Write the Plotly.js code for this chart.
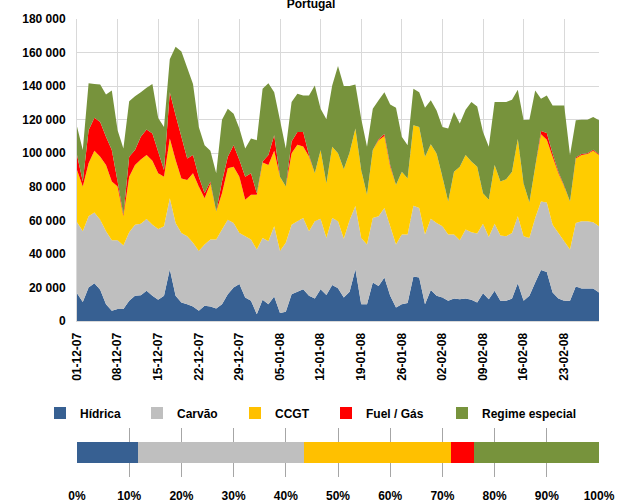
<!DOCTYPE html>
<html>
<head>
<meta charset="utf-8">
<script src="https://cdn.plot.ly/plotly-3.0.1.min.js"></script>
<style>
  html, body { margin: 0; padding: 0; background: #fff; }
  #chart { width: 622px; height: 504px; }
</style>
</head>
<body>
<div id="chart"></div>
<script>
// daily production, 01-12-07 .. 29-02-08
const START_DAY = '2007-12-01';
const DAY_MS = 86400000;

const SERIES_NAMES = ['Hídrica', 'Carvão', 'CCGT', 'Fuel / Gás', 'Regime especial'];

const hidrica = [
  16600, 11400, 19900, 22500, 18600, 10000, 6100, 7100, 7100, 12000, 15000, 15400, 18000, 15000, 12600, 15000,
  30800, 15000, 11000, 10000, 8700, 6100, 9100, 8700, 7500, 10000, 16000, 20000, 22000, 14000, 12000,
  4100, 12600, 10000, 14600, 4700, 5500, 16000, 17400, 19000, 15000, 13400, 19000, 15500, 21500, 19500,
  14000, 17500, 30800, 10000, 10000, 22900, 20900, 25900, 15000, 8100, 10000, 10700, 26500, 25900, 10000, 18500,
  15000, 14000, 12000, 13400, 13000, 13400, 12600, 11000, 16600, 13000, 18000, 12000, 12000, 13400, 22500, 12000,
  15000, 22900, 30400, 29200, 17000, 13400, 12000, 12000, 20500, 19300, 19300, 19300, 17000
];
const carvao = [
  42200, 42100, 42500, 42200, 41800, 43500, 42100, 41100, 37900, 40900, 42400, 42600, 42800, 42400, 42300, 41500,
  42400, 43400, 41500, 40500, 37900, 35600, 36500, 39900, 41100, 44500, 44400, 38400, 30500, 36500, 36600,
  38500, 36900, 37500, 41900, 37000, 41100, 41400, 42000, 42400, 38500, 46000, 42000, 34000, 39900, 40000,
  35000, 42500, 37700, 39500, 35600, 38500, 41500, 41400, 41500, 37500, 41500, 40800, 42200, 41400, 41500, 42500,
  43400, 42500, 39500, 38100, 35200, 41100, 40300, 41100, 41400, 37100, 40000, 38900, 38500, 39100, 39900, 38500,
  34500, 38500, 40900, 41500, 40400, 39100, 35500, 30600, 37900, 40100, 40100, 39500, 39500
];
const ccgt = [
  31200, 26600, 31600, 36800, 37500, 39500, 34900, 31900, 17400, 33100, 35600, 38300, 38100, 38100, 33100, 29500,
  35600, 37500, 32500, 33500, 41400, 38400, 27600, 33400, 16700, 21700, 30600, 33600, 33500, 21700, 26600,
  32600, 45000, 45500, 45000, 44300, 33500, 42600, 45600, 42600, 44500, 28600, 40900, 32500, 42400, 40500,
  41500, 40500, 46200, 40500, 29600, 40500, 45400, 42900, 35500, 35500, 37500, 33500, 48000, 48400, 46400, 44300,
  41500, 29500, 19800, 37500, 43800, 44400, 42100, 39900, 18200, 22100, 35000, 32200, 34000, 36500, 46100, 31500,
  21200, 30600, 40000, 37300, 40500, 35500, 32600, 28700, 38500, 39500, 40100, 42700, 42400
];
const fuelGas = [
  8900, 3000, 19700, 19700, 20700, 16800, 18800, 3000, 1000, 11900, 8900, 13500, 15200, 16200, 12900, 4000,
  27600, 26700, 24800, 12900, 10900, 5900, 3000, 1100, 0, 6900, 6900, 12800, 9900, 13800, 12800,
  1000, 500, 5900, 9200, 0, 0, 7000, 7700, 8700, 1000, 0, 0, 0, 0, 0,
  0, 0, 0, 0, 0, 0, 500, 1300, 1000, 0, 0, 0, 0, 0, 0, 0,
  0, 0, 0, 0, 0, 0, 0, 0, 0, 0, 0, 0, 0, 0, 0, 0,
  0, 0, 2000, 4000, 2000, 1000, 500, 0, 600, 600, 500, 500, 500
];
const regimeEspecial = [
  17100, 18800, 28000, 20100, 22400, 25200, 35500, 30600, 39400, 33100, 32100, 26600, 24900, 29600, 20100, 25700,
  19600, 40800, 50900, 54100, 42400, 29700, 28600, 18400, 22700, 36900, 28600, 18800, 18800, 16800, 20800,
  31600, 43400, 42800, 25700, 33600, 22700, 23500, 22700, 21700, 35400, 52400, 24600, 38300, 36600, 52000,
  49500, 39500, 26300, 30600, 28600, 24600, 23200, 24900, 36100, 46000, 20800, 19800, 21700, 20700, 29200, 26200,
  25600, 29700, 43400, 35600, 25700, 27000, 35500, 35900, 36500, 31600, 37500, 47400, 46000, 42900, 29300, 37800,
  49300, 45400, 19200, 22400, 28600, 39500, 47900, 27600, 22100, 20500, 20000, 19600, 20200
];

// share of each source over the whole period (bottom bar)
const shares = [0.117, 0.317, 0.283, 0.043, 0.240];

const AREA_COLORS = ['#376092', '#bfbfbf', '#ffcc00', '#ff0000', '#77933c'];
const BAR_COLORS = ['#376092', '#bfbfbf', '#ffc000', '#ff0000', '#77933c'];
const FONT = {family: 'Liberation Sans, Arial, sans-serif', size: 12, color: '#000', weight: 700};
const GRID = '#d9d9d9';

// plot box in pixels, used to place the legend entries one by one
const BOX = {left: 77, right: 599, top: 19, bottom: 477};
const LEGEND_TEXT_X = [80, 177, 275, 366, 482];
const LEGEND_Y = 413;

const areaSeries = [hidrica, carvao, ccgt, fuelGas, regimeEspecial];

const areas = areaSeries.map((vals, i) => ({
  type: 'scatter',
  x0: START_DAY,
  dx: DAY_MS,
  y: vals,
  name: SERIES_NAMES[i],
  stackgroup: 'prod',
  mode: 'none',
  fillcolor: AREA_COLORS[i],
  showlegend: false,
  hoverinfo: 'x+y+name',
  xaxis: 'x',
  yaxis: 'y',
}));

const legendIds = SERIES_NAMES.map((_, i) => i === 0 ? 'legend' : 'legend' + (i + 1));

const bars = shares.map((s, i) => ({
  type: 'bar',
  orientation: 'h',
  x: [s],
  y: [0],
  width: 0.41,
  name: SERIES_NAMES[i],
  legend: legendIds[i],
  marker: {color: BAR_COLORS[i], line: {width: 0}},
  xaxis: 'x2',
  yaxis: 'y2',
  hoverinfo: 'x+name',
}));

const layout = {
  width: 622,
  height: 504,
  margin: {l: BOX.left, r: 622 - BOX.right, t: BOX.top, b: 504 - BOX.bottom},
  paper_bgcolor: '#fff',
  plot_bgcolor: '#fff',
  font: FONT,
  separators: ', ',
  title: {
    text: 'Portugal',
    font: FONT,
    x: 0.5,
    xref: 'container',
    y: 0.993,
    yanchor: 'middle',
  },
  barmode: 'stack',
  showlegend: true,
  xaxis: {
    type: 'date',
    anchor: 'y',
    range: ['2007-12-01', '2008-02-29'],
    tick0: START_DAY,
    dtick: 7 * DAY_MS,
    tickformat: '%d-%m-%y',
    tickangle: -90,
    tickfont: FONT,
    ticks: '',
    ticklabelstandoff: 6,
    showgrid: true,
    gridcolor: GRID,
    gridwidth: 1,
    showline: true,
    linecolor: GRID,
    zeroline: false,
  },
  yaxis: {
    domain: [0.3406, 1],
    anchor: 'x',
    range: [0, 180000],
    dtick: 20000,
    tickformat: ',d',
    tickfont: FONT,
    ticks: '',
    ticklabelstandoff: 8,
    showgrid: true,
    gridcolor: GRID,
    gridwidth: 1,
    showline: true,
    linecolor: GRID,
    zeroline: false,
  },
  xaxis2: {
    anchor: 'y2',
    range: [0, 1],
    dtick: 0.1,
    tickformat: '.0%',
    tickfont: FONT,
    ticks: '',
    ticklabelstandoff: 10,
    showgrid: true,
    gridcolor: '#a6a6a6',
    gridwidth: 1,
    showline: false,
    zeroline: false,
  },
  yaxis2: {
    domain: [0, 0.107],
    anchor: 'x2',
    range: [-0.5, 0.5],
    showticklabels: false,
    showgrid: false,
    zeroline: false,
    showline: false,
    fixedrange: true,
  },
};

// one legend per entry so each sits where the reference puts it
const plotW = BOX.right - BOX.left;
const plotH = BOX.bottom - BOX.top;
legendIds.forEach((id, i) => {
  layout[id] = {
    orientation: 'h',
    xref: 'paper',
    yref: 'paper',
    x: (LEGEND_TEXT_X[i] - 30 - BOX.left) / plotW,
    xanchor: 'left',
    y: (BOX.bottom - LEGEND_Y) / plotH,
    yanchor: 'middle',
    font: FONT,
    indentation: -10,
    bgcolor: 'rgba(0,0,0,0)',
    borderwidth: 0,
  };
});

Plotly.newPlot('chart', areas.concat(bars), layout, {displayModeBar: false, staticPlot: true});
</script>
</body>
</html>
